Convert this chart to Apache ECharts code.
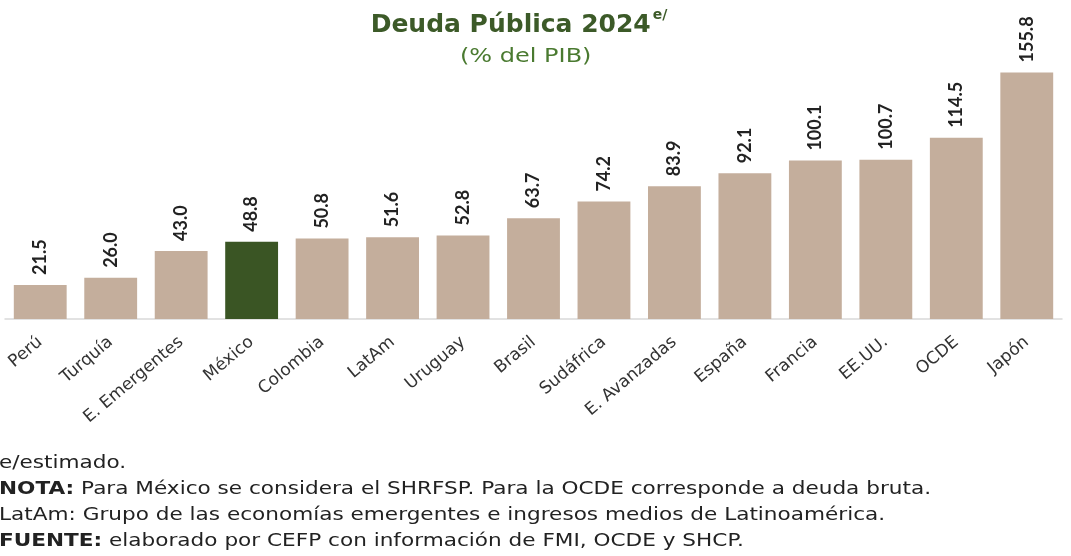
<!DOCTYPE html>
<html><head><meta charset="utf-8">
<script src="https://cdn.jsdelivr.net/npm/echarts@6/dist/echarts.min.js"></script>
<style>html,body{margin:0;padding:0;background:#fff}#c{width:1071px;height:556px}</style>
</head><body><div id="c"></div>
<script>
const categories = ['Perú','Turquía','E. Emergentes','México','Colombia','LatAm','Uruguay','Brasil','Sudáfrica','E. Avanzadas','España','Francia','EE.UU.','OCDE','Japón'];
const values = [21.5,26.0,43.0,48.8,50.8,51.6,52.8,63.7,74.2,83.9,92.1,100.1,100.7,114.5,155.8];
const highlight = 'México';
const titleText = 'Deuda Pública 2024';
const titleSup = 'e/';
const subtitleText = '(% del PIB)';
const footnotes = [
  ['', 'e/estimado.'],
  ['NOTA:', ' Para México se considera el SHRFSP. Para la OCDE corresponde a deuda bruta.'],
  ['', 'LatAm: Grupo de las economías emergentes e ingresos medios de Latinoamérica.'],
  ['FUENTE:', ' elaborado por CEFP con información de FMI, OCDE y SHCP.']
];
const chart = echarts.init(document.getElementById('c'));
const tan = '#c4ae9c', green = '#3a5524';
const bodyFont = '"DejaVu Sans", sans-serif';
const graphics = [
  {type: 'text', x: 519, y: 23, style: {
    text: '{t|' + titleText + '}{s|' + titleSup + '}', align: 'center', verticalAlign: 'middle',
    rich: {
      t: {fontFamily: bodyFont, fontWeight: 'bold', fontSize: 25, fill: '#3c5a28', lineHeight: 30, verticalAlign: 'bottom'},
      s: {fontFamily: bodyFont, fontWeight: 'bold', fontSize: 14, fill: '#3c5a28', lineHeight: 30, verticalAlign: 'top', padding: [0, 0, 14, 2]}
    }}},
  {type: 'text', x: 460, y: 57, scaleX: 1.2, style: {
    text: subtitleText, fontFamily: bodyFont, fontSize: 20, fill: '#4a7a30', verticalAlign: 'middle'}}
].concat(footnotes.map((f, i) => ({
  type: 'text', x: -1, y: 464 + i * 25.7, scaleX: 1.27,
  style: {
    text: (f[0] ? '{b|' + f[0] + '}' : '') + '{n|' + f[1] + '}', verticalAlign: 'middle',
    rich: {
      b: {fontFamily: bodyFont, fontWeight: 'bold', fontSize: 17, fill: '#222'},
      n: {fontFamily: bodyFont, fontSize: 17, fill: '#222'}
    }
  }
})));
chart.setOption({
  animation: false,
  grid: {left: 5, right: 9, top: 50, bottom: 237, containLabel: false},
  xAxis: {
    type: 'category', data: categories,
    axisLine: {lineStyle: {color: '#d9d9d9', width: 1.5}},
    axisTick: {show: false},
    axisLabel: {rotate: 40, interval: 0, margin: 21, fontFamily: bodyFont, fontSize: 17, color: '#333'}
  },
  yAxis: {type: 'value', min: 0, max: 170, show: false, splitLine: {show: false}},
  series: [{
    type: 'bar', barCategoryGap: '25%',
    data: values.map((v, i) => ({value: v, itemStyle: {color: categories[i] === highlight ? green : tan}})),
    label: {
      show: true, position: 'top', rotate: 90, align: 'left', verticalAlign: 'middle', distance: 10,
      formatter: p => p.value.toFixed(1),
      fontFamily: 'Lato, sans-serif',
      fontWeight: 'bold', fontSize: 18, color: '#222'
    }
  }],
  graphic: graphics
});
</script></body></html>
